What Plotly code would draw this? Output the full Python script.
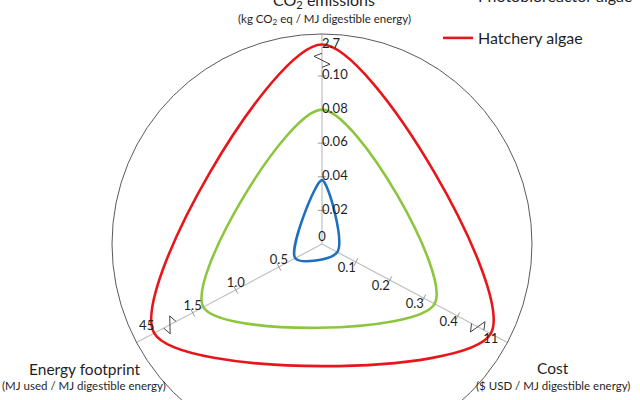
import math
import plotly.graph_objects as go

# ---------------- data ----------------
AXIS_NAMES = ["CO2 emissions", "Cost", "Energy footprint"]
AXIS_THETA = [0, 118, 242]          # top, bottom-right, bottom-left

BLUE_VALUES = [0.038, 0.045, 0.31]      # CO2, cost, energy
PBR_VALUES = [0.08, 0.332, 1.376]       # Photobioreactor algae
HATCHERY_VALUES = [2.7, 11, 45]         # Hatchery algae

CO2_TICKS = [0.02, 0.04, 0.06, 0.08, 0.10]
CO2_TICK_TEXT = ["0.02", "0.04", "0.06", "0.08", "0.10"]
COST_TICKS = [0.1, 0.2, 0.3, 0.4]
COST_TICK_TEXT = ["0.1", "0.2", "0.3", "0.4"]
ENERGY_TICKS = [0.5, 1.0, 1.5]
ENERGY_TICK_TEXT = ["0.5", "1.0", "1.5"]
AXIS_END_VALUES = [2.7, 11, 45]
AXIS_END_TEXT = ["2.7", "11", "45"]

# ---------------- axis scaling (broken axes) ----------------
SCALE = [8.0, 1.83, 0.465]         # radius per unit below the break
LINEAR_MAX = [0.10, 0.4, 1.5]
END_R = [0.95, 0.91, 0.905]        # radius of the value after the break
BREAK_R = [0.875, 0.84, 0.82]
R_PX = 210.0

def to_r(i, v):
    if v <= LINEAR_MAX[i] * 1.2:
        return v * SCALE[i]
    return END_R[i] * v / AXIS_END_VALUES[i]

def closed(vals):
    r = [to_r(i, v) for i, v in enumerate(vals)]
    return r + [r[0]], AXIS_THETA + [AXIS_THETA[0]]

def offset_pt(i, r0, a, p):
    rp = r0 * R_PX + a
    rr = math.hypot(rp, p) / R_PX
    th = AXIS_THETA[i] + math.degrees(math.atan2(p, rp))
    return rr, th

GREY = "#BFBFBF"
TXT = "#1f1f1f"
FONT = "Lato"

fig = go.Figure()

# spokes
for th in AXIS_THETA:
    fig.add_trace(go.Scatterpolar(r=[0, 1], theta=[th, th], mode="lines",
                                  line=dict(color=GREY, width=1.2),
                                  showlegend=False, hoverinfo="skip"))

# tick marks
tick_sets = [(0, CO2_TICKS, 0), (1, COST_TICKS, -62), (2, ENERGY_TICKS, 62)]
for i, ticks, ang in tick_sets:
    fig.add_trace(go.Scatterpolar(
        r=[to_r(i, t) for t in ticks], theta=[AXIS_THETA[i]] * len(ticks),
        mode="markers",
        marker=dict(symbol="line-ew", size=6, angle=ang,
                    line=dict(color="#9a9a9a", width=1)),
        showlegend=False, hoverinfo="skip"))

# axis break symbols
for i in range(3):
    pts = [offset_pt(i, BREAK_R[i], a, p) for a, p in [(-7, 0), (-4, 8), (4, -8), (7, 0)]]
    fig.add_trace(go.Scatterpolar(r=[q[0] for q in pts], theta=[q[1] for q in pts],
                                  mode="lines", line=dict(color="#404040", width=1),
                                  showlegend=False, hoverinfo="skip"))

# series curves
series = [
    (BLUE_VALUES, "#1F6FC0", None, None),
    (PBR_VALUES, "#8CC63F", "Photobioreactor algae", "legend"),
    (HATCHERY_VALUES, "#E8161B", "Hatchery algae", "legend2"),
]
for vals, col, name, leg in series:
    r, th = closed(vals)
    kw = dict(showlegend=False) if name is None else dict(name=name, legend=leg, showlegend=True)
    fig.add_trace(go.Scatterpolar(r=r, theta=th, mode="lines",
                                  line=dict(color=col, width=2.6, shape="spline", smoothing=0.9),
                                  hoverinfo="skip", **kw))

# tick labels
lab_font = dict(family=FONT, size=13, color=TXT)
fig.add_trace(go.Scatterpolar(r=[to_r(0, t) for t in CO2_TICKS], theta=[AXIS_THETA[0]] * len(CO2_TICKS),
                              mode="text", text=CO2_TICK_TEXT, textposition="middle right",
                              textfont=lab_font, showlegend=False, hoverinfo="skip", cliponaxis=False))
fig.add_trace(go.Scatterpolar(r=[0], theta=[0], mode="text", text=["0"], textposition="top center",
                              textfont=lab_font, showlegend=False, hoverinfo="skip", cliponaxis=False))
fig.add_trace(go.Scatterpolar(r=[to_r(1, t) for t in COST_TICKS], theta=[AXIS_THETA[1]] * len(COST_TICKS),
                              mode="text", text=COST_TICK_TEXT, textposition="bottom left",
                              textfont=lab_font, showlegend=False, hoverinfo="skip", cliponaxis=False))
fig.add_trace(go.Scatterpolar(r=[to_r(2, t) for t in ENERGY_TICKS], theta=[AXIS_THETA[2]] * len(ENERGY_TICKS),
                              mode="text", text=ENERGY_TICK_TEXT, textposition="top center",
                              textfont=lab_font, showlegend=False, hoverinfo="skip", cliponaxis=False))
end_pos = ["middle right", "bottom center", "top left"]
for i in range(3):
    fig.add_trace(go.Scatterpolar(r=[to_r(i, AXIS_END_VALUES[i])], theta=[AXIS_THETA[i]],
                                  mode="text", text=[AXIS_END_TEXT[i]], textposition=end_pos[i],
                                  textfont=lab_font, showlegend=False, hoverinfo="skip",
                                  cliponaxis=False))

W, H = 640, 460
def py(px):
    return 1 - px / H

annos = [
    ("CO<sub>2</sub> emissions", 324, 1, 16),
    ("(kg CO<sub>2</sub> eq / MJ digestible energy)", 324, 20, 11.5),
    ("Energy footprint", 84, 369, 15.5),
    ("(MJ used / MJ digestible energy)", 84, 385, 11.5),
    ("Cost", 553, 368, 15.5),
    ("($ USD / MJ digestible energy)", 553, 385, 11.5),
]
annotations = [dict(text=t, x=x / W, y=py(y), xref="paper", yref="paper",
                    xanchor="center", yanchor="middle", showarrow=False,
                    font=dict(family=FONT, size=s, color=TXT)) for t, x, y, s in annos]

cx, cy, R = 322, 244, R_PX
fig.update_layout(
    width=W, height=H,
    margin=dict(l=0, r=0, t=0, b=0, autoexpand=False),
    paper_bgcolor="white",
    font=dict(family=FONT, color=TXT),
    polar=dict(
        domain=dict(x=[(cx - R) / W, (cx + R) / W], y=[py(cy + R), py(cy - R)]),
        bgcolor="white",
        radialaxis=dict(visible=False, range=[0, 1], showgrid=False),
        angularaxis=dict(rotation=90, direction="clockwise", showgrid=False,
                         showticklabels=False, ticks="", showline=True,
                         linecolor="#5a5a5a", linewidth=1),
    ),
    legend=dict(x=438 / W, xanchor="left", y=py(-4), yanchor="middle",
                font=dict(family=FONT, size=16, color=TXT), bgcolor="rgba(0,0,0,0)"),
    legend2=dict(x=438 / W, xanchor="left", y=py(38), yanchor="middle",
                 font=dict(family=FONT, size=16, color=TXT), bgcolor="rgba(0,0,0,0)"),
    annotations=annotations,
)

fig.write_html("out.html", config={"displayModeBar": False},
               post_script="document.body.style.margin='0px';"
                           "document.body.style.overflow='hidden';"
                           "document.documentElement.style.overflow='hidden';")
